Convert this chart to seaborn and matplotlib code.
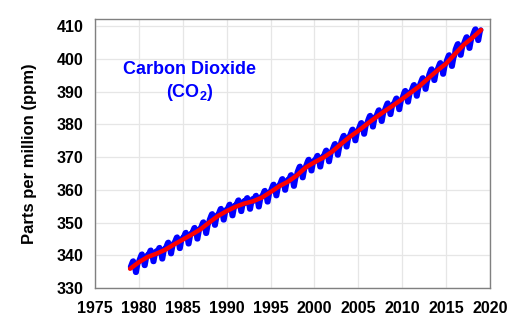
import numpy as np
import pandas as pd
import matplotlib
matplotlib.use("Agg")
import matplotlib.pyplot as plt
import seaborn as sns
from matplotlib.ticker import MultipleLocator

# ---- data ----
years = list(range(1979, 2019))
co2_monthly = [
    336.5, 337.1, 337.7, 338.2, 338.3, 337.5, 336.1, 334.8, 334.8, 336.0, 337.3, 338.0,
    338.6, 339.2, 339.8, 340.3, 340.4, 339.6, 338.2, 336.9, 336.9, 338.1, 339.4, 340.1,
    339.8, 340.4, 341.0, 341.5, 341.6, 340.8, 339.4, 338.1, 338.1, 339.3, 340.6, 341.3,
    340.6, 341.2, 341.8, 342.3, 342.4, 341.6, 340.2, 338.9, 338.9, 340.1, 341.4, 342.1,
    342.2, 342.8, 343.4, 343.9, 344.0, 343.2, 341.8, 340.5, 340.5, 341.7, 343.0, 343.7,
    343.8, 344.4, 345.0, 345.5, 345.6, 344.8, 343.4, 342.1, 342.1, 343.3, 344.6, 345.3,
    345.2, 345.8, 346.4, 346.9, 347.0, 346.2, 344.8, 343.5, 343.5, 344.7, 346.0, 346.7,
    346.7, 347.3, 347.9, 348.4, 348.5, 347.7, 346.3, 345.0, 345.0, 346.2, 347.5, 348.2,
    348.4, 349.0, 349.6, 350.1, 350.2, 349.4, 348.0, 346.7, 346.7, 347.9, 349.2, 349.9,
    350.9, 351.5, 352.1, 352.6, 352.7, 351.9, 350.5, 349.2, 349.2, 350.4, 351.7, 352.4,
    352.5, 353.1, 353.7, 354.2, 354.3, 353.5, 352.1, 350.8, 350.8, 352.0, 353.3, 354.0,
    353.8, 354.4, 355.0, 355.5, 355.6, 354.8, 353.4, 352.1, 352.1, 353.3, 354.6, 355.3,
    355.1, 355.7, 356.3, 356.8, 356.9, 356.1, 354.7, 353.4, 353.4, 354.6, 355.9, 356.6,
    355.8, 356.4, 357.0, 357.5, 357.6, 356.8, 355.4, 354.1, 354.1, 355.3, 356.6, 357.3,
    356.5, 357.1, 357.7, 358.2, 358.3, 357.5, 356.1, 354.8, 354.8, 356.0, 357.3, 358.0,
    358.0, 358.6, 359.2, 359.7, 359.8, 359.0, 357.6, 356.3, 356.3, 357.5, 358.8, 359.5,
    359.9, 360.5, 361.1, 361.6, 361.7, 360.9, 359.5, 358.2, 358.2, 359.4, 360.7, 361.4,
    361.6, 362.2, 362.8, 363.3, 363.4, 362.6, 361.2, 359.9, 359.9, 361.1, 362.4, 363.1,
    362.8, 363.4, 364.0, 364.5, 364.6, 363.8, 362.4, 361.1, 361.1, 362.3, 363.6, 364.3,
    365.4, 366.0, 366.6, 367.1, 367.2, 366.4, 365.0, 363.7, 363.7, 364.9, 366.2, 366.9,
    367.5, 368.1, 368.7, 369.2, 369.3, 368.5, 367.1, 365.8, 365.8, 367.0, 368.3, 369.0,
    368.7, 369.3, 369.9, 370.4, 370.5, 369.7, 368.3, 367.0, 367.0, 368.2, 369.5, 370.2,
    370.3, 370.9, 371.5, 372.0, 372.1, 371.3, 369.9, 368.6, 368.6, 369.8, 371.1, 371.8,
    372.3, 372.9, 373.5, 374.0, 374.1, 373.3, 371.9, 370.6, 370.6, 371.8, 373.1, 373.8,
    374.8, 375.4, 376.0, 376.5, 376.6, 375.8, 374.4, 373.1, 373.1, 374.3, 375.6, 376.3,
    376.7, 377.3, 377.9, 378.4, 378.5, 377.7, 376.3, 375.0, 375.0, 376.2, 377.5, 378.2,
    378.7, 379.3, 379.9, 380.4, 380.5, 379.7, 378.3, 377.0, 377.0, 378.2, 379.5, 380.2,
    380.9, 381.5, 382.1, 382.6, 382.7, 381.9, 380.5, 379.2, 379.2, 380.4, 381.7, 382.4,
    382.6, 383.2, 383.8, 384.3, 384.4, 383.6, 382.2, 380.9, 380.9, 382.1, 383.4, 384.1,
    384.7, 385.3, 385.9, 386.4, 386.5, 385.7, 384.3, 383.0, 383.0, 384.2, 385.5, 386.2,
    386.2, 386.8, 387.4, 387.9, 388.0, 387.2, 385.8, 384.5, 384.5, 385.7, 387.0, 387.7,
    388.5, 389.1, 389.7, 390.2, 390.3, 389.5, 388.1, 386.8, 386.8, 388.0, 389.3, 390.0,
    390.3, 390.9, 391.5, 392.0, 392.1, 391.3, 389.9, 388.6, 388.6, 389.8, 391.1, 391.8,
    392.4, 393.0, 393.6, 394.1, 394.2, 393.4, 392.0, 390.7, 390.7, 391.9, 393.2, 393.9,
    395.1, 395.7, 396.3, 396.8, 396.9, 396.1, 394.7, 393.4, 393.4, 394.6, 395.9, 396.6,
    397.0, 397.6, 398.2, 398.7, 398.8, 398.0, 396.6, 395.3, 395.3, 396.5, 397.8, 398.5,
    399.4, 400.0, 400.6, 401.1, 401.2, 400.4, 399.0, 397.7, 397.7, 398.9, 400.2, 400.9,
    402.8, 403.4, 404.0, 404.5, 404.6, 403.8, 402.4, 401.1, 401.1, 402.3, 403.6, 404.3,
    404.9, 405.5, 406.1, 406.6, 406.7, 405.9, 404.5, 403.2, 403.2, 404.4, 405.7, 406.4,
    407.3, 407.9, 408.5, 409.0, 409.1, 408.3, 406.9, 405.6, 405.6, 406.8, 408.1, 408.8,
]
trend_years = list(range(1979, 2020))
co2_trend = [
    335.9, 337.9, 339.5, 340.5, 341.7, 343.3, 344.8, 346.3, 347.9, 350.0,
    352.0, 353.5, 354.8, 355.8, 356.5, 357.6, 359.3, 361.1, 362.5, 364.4,
    366.8, 368.4, 369.8, 371.6, 373.9, 376.1, 378.0, 380.1, 382.1, 384.0,
    385.8, 387.7, 389.7, 391.7, 394.1, 396.4, 398.5, 401.4, 404.2, 406.4,
    408.8,
]
title_lines = ["Carbon Dioxide", r"(CO$_{\mathrm{2}}$)"]
y_label = "Parts per million (ppm)"

# ---- tables ----
month_pos = [(m + 0.5) / 12 for m in range(12)]
df_m = pd.DataFrame({
    "year": [y + f for y in years for f in month_pos],
    "ppm": co2_monthly,
})
df_t = pd.DataFrame({"year": trend_years, "ppm": co2_trend})

# ---- style ----
sns.set_style("white")
plt.rcParams["font.family"] = ["Liberation Sans", "DejaVu Sans"]
plt.rcParams["font.weight"] = "bold"
plt.rcParams["text.color"] = "black"
plt.rcParams["axes.labelcolor"] = "black"
plt.rcParams["mathtext.fontset"] = "custom"
plt.rcParams["mathtext.rm"] = "Liberation Sans:bold"
plt.rcParams["mathtext.bf"] = "Liberation Sans:bold"

fig = plt.figure(figsize=(5.19, 3.35), dpi=100)
ax = fig.add_axes([0.183, 0.140, 0.761, 0.802])

sns.lineplot(data=df_m, x="year", y="ppm", ax=ax, color="#0000ff", lw=3.8,
             sort=False, estimator=None, solid_capstyle="round")
sns.lineplot(data=df_t, x="year", y="ppm", ax=ax, color="#ff0000", lw=3.2,
             sort=False, estimator=None, solid_capstyle="round")

ax.set_xlim(1975, 2020)
ax.set_ylim(330, 412)
ax.xaxis.set_major_locator(MultipleLocator(5))
ax.xaxis.set_minor_locator(MultipleLocator(1))
ax.yaxis.set_major_locator(MultipleLocator(10))
ax.yaxis.set_minor_locator(MultipleLocator(1))

ax.grid(True, which="major", color="#e6e6e6", lw=0.9)
ax.set_axisbelow(True)
for s in ax.spines.values():
    s.set_visible(True)
    s.set_color("#808080")
    s.set_linewidth(1.0)

ax.tick_params(axis="both", which="major", direction="inout", length=6.5,
               width=0.9, color="#808080", labelsize=11.5, labelcolor="black",
               pad=5)
ax.tick_params(axis="both", which="minor", direction="in", length=3,
               width=0.7, color="#808080")
ax.tick_params(axis="x", which="major", pad=6)
for lab in ax.get_xticklabels() + ax.get_yticklabels():
    lab.set_fontweight("bold")

ax.set_xlabel("")
ax.set_ylabel(y_label, fontsize=12, fontweight="bold", labelpad=14,
              color="black")

ax.text(0.24, 0.812, title_lines[0], transform=ax.transAxes, ha="center",
        va="center", color="#0000ff", fontsize=13, fontweight="bold")
ax.text(0.24, 0.727, title_lines[1], transform=ax.transAxes, ha="center",
        va="center", color="#0000ff", fontsize=13, fontweight="bold")

fig.savefig("out.png", dpi=100)
